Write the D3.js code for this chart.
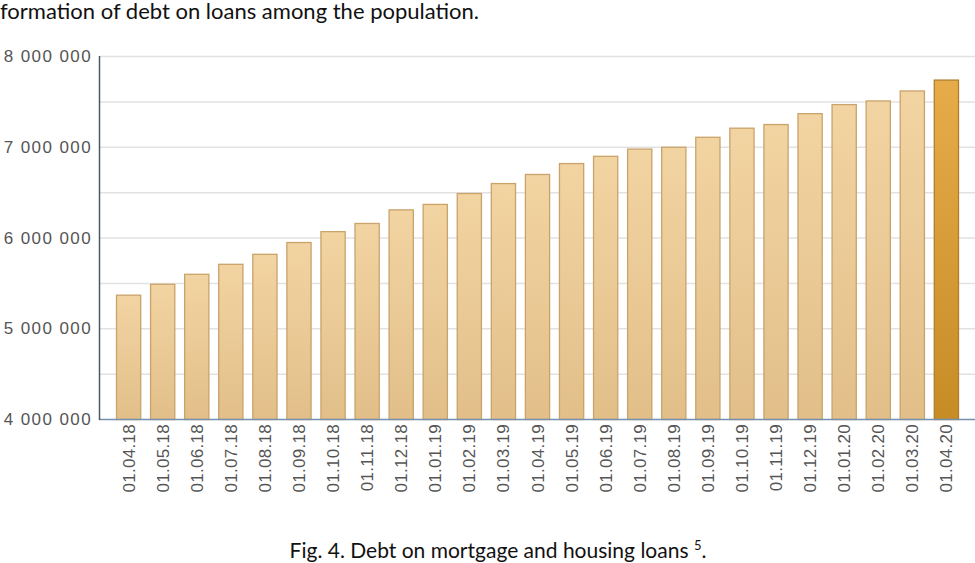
<!DOCTYPE html>
<html>
<head>
<meta charset="utf-8">
<script src="https://cdn.jsdelivr.net/npm/d3@7"></script>
<style>
  body { margin: 0; background: #fff; }
  svg { display: block; }
</style>
</head>
<body>
<svg id="chart" width="975" height="563"></svg>
<script>
// dates and debt values
var dates = ["01.04.18","01.05.18","01.06.18","01.07.18","01.08.18","01.09.18","01.10.18","01.11.18","01.12.18",
             "01.01.19","01.02.19","01.03.19","01.04.19","01.05.19","01.06.19","01.07.19","01.08.19","01.09.19",
             "01.10.19","01.11.19","01.12.19","01.01.20","01.02.20","01.03.20","01.04.20"];
var debt = [5370000, 5490000, 5600000, 5710000, 5820000, 5950000, 6070000, 6160000, 6310000,
            6370000, 6490000, 6600000, 6700000, 6820000, 6900000, 6980000, 7000000, 7110000,
            7210000, 7250000, 7370000, 7470000, 7510000, 7620000, 7740000];
var yTicks = [4000000, 5000000, 6000000, 7000000, 8000000];
var gridTicks = [4500000, 5000000, 5500000, 6000000, 6500000, 7000000, 7500000, 8000000];

var svg = d3.select("#chart");
var mLeft = 99, mRight = 975, mTop = 56, mBottom = 419;

var y = d3.scaleLinear().domain([4000000, 8000000]).range([mBottom, mTop]);
var x = d3.scaleBand().domain(dates).range([mLeft + 17, mRight - 16]).paddingInner(0.26).paddingOuter(0);

var fmt = function(d) { return d3.format(",")(d).replace(/,/g, " "); };

// gradients
var defs = svg.append("defs");
var g1 = defs.append("linearGradient").attr("id", "barGrad").attr("x1", 0).attr("y1", 0).attr("x2", 0).attr("y2", 1);
g1.append("stop").attr("offset", "0%").attr("stop-color", "#f2d4a2");
g1.append("stop").attr("offset", "100%").attr("stop-color", "#e2bf89");
var g2 = defs.append("linearGradient").attr("id", "lastGrad").attr("x1", 0).attr("y1", 0).attr("x2", 0).attr("y2", 1);
g2.append("stop").attr("offset", "0%").attr("stop-color", "#e6ac4a");
g2.append("stop").attr("offset", "100%").attr("stop-color", "#c68c26");

// top text (cut paragraph)
svg.append("text")
  .attr("x", 0).attr("y", 19)
  .style("font-family", "Lato, 'Open Sans', sans-serif")
  .style("font-size", "22px")
  .style("fill", "#111")
  .text("formation of debt on loans among the population.");

// grid
svg.append("g").selectAll("line").data(gridTicks).enter()
  .append("line")
  .attr("x1", mLeft).attr("x2", mRight)
  .attr("y1", function(d) { return y(d) + 0.5; })
  .attr("y2", function(d) { return y(d) + 0.5; })
  .style("stroke", "#e2e2e2")
  .style("stroke-width", 1.5);

// bars
svg.append("g").selectAll("rect").data(debt).enter()
  .append("rect")
  .attr("x", function(d, i) { return x(dates[i]) + 0.5; })
  .attr("y", function(d) { return y(d) + 0.5; })
  .attr("width", x.bandwidth() - 1)
  .attr("height", function(d) { return mBottom - y(d); })
  .style("fill", function(d, i) { return i == debt.length - 1 ? "url(#lastGrad)" : "url(#barGrad)"; })
  .style("stroke", function(d, i) { return i == debt.length - 1 ? "#b07e2a" : "#c9a36a"; })
  .style("stroke-width", 1.3);

// axes lines
svg.append("line").attr("x1", mLeft).attr("x2", mRight).attr("y1", mBottom + 0.5).attr("y2", mBottom + 0.5)
  .style("stroke", "#7890b0").style("stroke-width", 1.5);
svg.append("line").attr("x1", mLeft + 0.5).attr("x2", mLeft + 0.5).attr("y1", mTop).attr("y2", mBottom + 1)
  .style("stroke", "#4d5868").style("stroke-width", 1.5);

// y labels
svg.append("g").selectAll("text").data(yTicks).enter()
  .append("text")
  .attr("x", 92)
  .attr("y", function(d) { return y(d) + 6; })
  .attr("text-anchor", "end")
  .style("font-family", "'Liberation Sans', Arial, sans-serif")
  .style("font-size", "17px")
  .style("letter-spacing", "1.4px")
  .style("fill", "#555")
  .text(fmt);

// x labels
svg.append("g").selectAll("text").data(dates).enter()
  .append("text")
  .attr("transform", function(d) { return "translate(" + (x(d) + x.bandwidth() / 2 + 6) + "," + 424 + ") rotate(-90)"; })
  .attr("text-anchor", "end")
  .style("font-family", "'Liberation Sans', Arial, sans-serif")
  .style("font-size", "17px")
  .style("letter-spacing", "0.3px")
  .style("fill", "#555")
  .text(function(d) { return d; });

// caption
var cap = svg.append("text")
  .attr("x", 498).attr("y", 558)
  .attr("text-anchor", "middle")
  .style("font-family", "Lato, 'Open Sans', sans-serif")
  .style("font-size", "21px")
  .style("fill", "#111");
cap.append("tspan").text("Fig. 4. Debt on mortgage and housing loans ");
cap.append("tspan").attr("dy", -8).style("font-size", "13px").text("5");
cap.append("tspan").attr("dy", 8).text(".");
</script>
</body>
</html>
